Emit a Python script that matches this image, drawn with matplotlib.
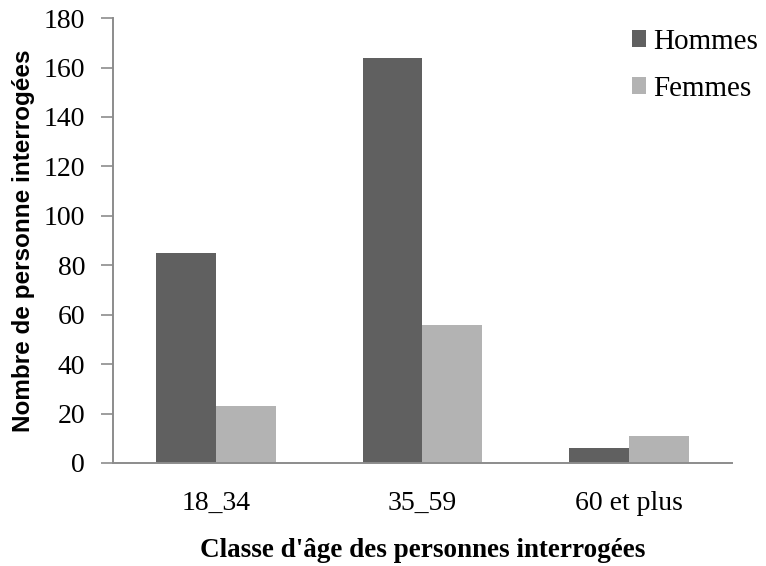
import numpy as np
import matplotlib.pyplot as plt

categories = ["18_34", "35_59", "60 et plus"]
hommes = [85, 164, 6]
femmes = [23, 56, 11]

plt.rcParams["font.family"] = ["Liberation Serif", "DejaVu Serif"]

fig = plt.figure(figsize=(7.66, 5.66), dpi=100)
ax = fig.add_axes([0.1475, 0.182, 0.808, 0.786])

x = np.arange(len(categories))
w = 0.29
ax.bar(x - w / 2, hommes, w, color="#606060", label="Hommes")
ax.bar(x + w / 2, femmes, w, color="#b3b3b3", label="Femmes")

ax.set_xlim(-0.5, 2.5)
ax.set_ylim(0, 180)
ax.set_yticks(range(0, 181, 20))
ax.set_xticks(x)
ax.set_xticklabels(categories)
ax.tick_params(axis="y", labelsize=20, length=9, width=1.2, color="#8c8c8c", pad=11)
ax.tick_params(axis="x", labelsize=20, length=0, pad=20)

for s in ["top", "right"]:
    ax.spines[s].set_visible(False)
for s in ["left", "bottom"]:
    ax.spines[s].set_color("#8c8c8c")
    ax.spines[s].set_linewidth(1.4)

ax.set_xlabel("Classe d'âge des personnes interrogées", fontsize=19.5,
              fontweight="bold", labelpad=16)
ax.set_ylabel("Nombre de personne interrogées", fontsize=17.5, fontweight="bold",
              family=["Liberation Sans", "DejaVu Sans"], labelpad=6)

ax.legend(loc="upper right", bbox_to_anchor=(1.085, 1.035), frameon=False,
          fontsize=21, handlelength=0.5, handleheight=0.5, handletextpad=0.25,
          labelspacing=0.72)

fig.savefig("out.png", dpi=100)
